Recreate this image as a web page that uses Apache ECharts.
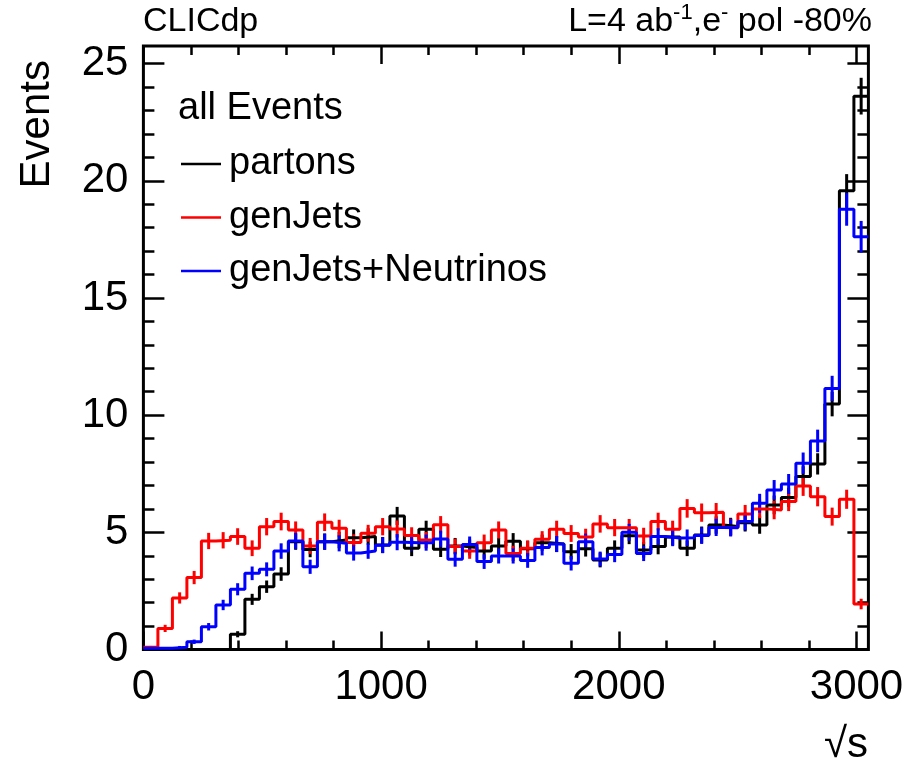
<!DOCTYPE html>
<html>
<head>
<meta charset="utf-8">
<script src="https://cdn.jsdelivr.net/npm/echarts@6/dist/echarts.min.js"></script>
<style>
  html, body { margin: 0; padding: 0; background: #fff; }
  #chart { width: 908px; height: 765px; }
</style>
</head>
<body>
<div id="chart"></div>
<script>
// Histogram binning of sqrt(s): 50 bins of 61 GeV from 0 to 3050
const X_MIN = 0;
const BIN_WIDTH = 61;
const N_BINS = 50;
const X_MAX = X_MIN + BIN_WIDTH * N_BINS;
const Y_MAX = 25.75;

// Per-event weight used for the statistical (sqrt(sum w^2)) error bars
const EVENT_WEIGHT = 0.026;

// Bin contents
const partons = [
  0, 0, 0, 0, 0, 0, 0.65, 2.14, 2.68, 3.22,
  4.60, 4.27, 4.60, 4.67, 4.77, 4.82, 4.46, 5.70, 4.32, 5.13,
  4.28, 4.42, 4.35, 4.20, 4.42, 4.62, 4.30, 4.56, 4.50, 4.17,
  4.30, 3.82, 4.32, 4.85, 4.25, 4.40, 4.80, 4.32, 4.89, 5.31,
  5.25, 5.41, 5.31, 6.17, 6.49, 7.38, 7.92, 10.47, 19.57, 23.61
];
const genJets = [
  0.10, 0.90, 2.20, 3.07, 4.63, 4.66, 4.82, 4.32, 5.24, 5.46,
  5.10, 4.42, 5.43, 5.17, 4.57, 4.96, 5.24, 5.14, 4.86, 4.67,
  5.32, 4.39, 4.20, 4.56, 5.10, 4.10, 4.32, 4.70, 5.13, 4.95,
  4.80, 5.36, 5.20, 5.20, 4.84, 5.46, 5.13, 6.02, 5.84, 5.86,
  5.21, 5.78, 6.00, 5.95, 6.31, 6.98, 6.52, 5.67, 6.41, 1.94
];
const genJetsNeutrinos = [
  0.05, 0.05, 0.10, 0.33, 0.97, 1.90, 2.57, 3.25, 3.42, 4.20,
  4.63, 3.53, 4.60, 4.53, 4.12, 4.20, 4.45, 4.58, 4.56, 4.56,
  4.72, 3.85, 4.48, 3.75, 3.99, 3.99, 3.80, 4.35, 4.50, 3.68,
  4.60, 3.86, 4.05, 5.00, 4.10, 4.82, 4.76, 4.77, 4.86, 5.21,
  5.19, 5.46, 6.24, 6.81, 7.06, 7.95, 8.90, 11.14, 18.78, 17.61
];

// Axis ticks
const xMajorTicks = [0, 1000, 2000, 3000];
const xMinorTicks = [200, 400, 600, 800, 1200, 1400, 1600, 1800, 2200, 2400, 2600, 2800];
const yMajorTicks = [0, 5, 10, 15, 20, 25];
const yMinorTicks = [1, 2, 3, 4, 6, 7, 8, 9, 11, 12, 13, 14, 16, 17, 18, 19, 21, 22, 23, 24];

const FONT = '"Liberation Sans", Arial, Helvetica, sans-serif';

const histograms = [
  { name: 'partons', color: '#000000', values: partons },
  { name: 'genJets', color: '#ff0000', values: genJets },
  { name: 'genJets+Neutrinos', color: '#0000ff', values: genJetsNeutrinos }
];

// Step outline: one point per lower bin edge plus the upper edge of the last bin
function stepPoints(values) {
  const pts = values.map((v, i) => [X_MIN + i * BIN_WIDTH, v]);
  pts.push([X_MAX, values[values.length - 1]]);
  return pts;
}

// Error bars at bin centres
function errorBars(values) {
  const out = [];
  values.forEach((v, i) => {
    if (v <= 0) return;
    const e = Math.sqrt(EVENT_WEIGHT * v);
    out.push([X_MIN + (i + 0.5) * BIN_WIDTH, v - e, v + e]);
  });
  return out;
}

function xAxisDef(position, ticks, len, labels) {
  return {
    type: 'value', position: position, min: X_MIN, max: X_MAX,
    axisLine: { show: false, onZero: false },
    splitLine: { show: false },
    axisTick: { show: true, inside: true, length: len, customValues: ticks,
      lineStyle: { color: '#000', width: 2.5 } },
    axisLabel: labels ? {
      show: true, customValues: xMajorTicks, margin: 17,
      formatter: v => String(v),
      fontSize: 42, color: '#000', fontFamily: FONT
    } : { show: false }
  };
}

function yAxisDef(position, ticks, len, labels) {
  return {
    type: 'value', position: position, min: 0, max: Y_MAX,
    axisLine: { show: false, onZero: false },
    splitLine: { show: false },
    axisTick: { show: true, inside: true, length: len, customValues: ticks,
      lineStyle: { color: '#000', width: 2.5 } },
    axisLabel: labels ? {
      show: true, customValues: yMajorTicks, margin: 15,
      formatter: v => String(v),
      fontSize: 42, color: '#000', fontFamily: FONT
    } : { show: false }
  };
}

const series = [];
histograms.forEach(h => {
  series.push({
    name: h.name, type: 'line', step: 'end',
    xAxisIndex: 0, yAxisIndex: 0,
    data: stepPoints(h.values),
    showSymbol: false, symbol: 'none',
    lineStyle: { color: h.color, width: 3 },
    itemStyle: { color: h.color },
    animation: false, z: 3
  });
});
histograms.forEach(h => {
  series.push({
    name: h.name, type: 'custom',
    xAxisIndex: 0, yAxisIndex: 0,
    data: errorBars(h.values),
    encode: { x: 0, y: [1, 2] },
    renderItem: function (params, api) {
      const x = api.value(0);
      const p1 = api.coord([x, api.value(1)]);
      const p2 = api.coord([x, api.value(2)]);
      return {
        type: 'line',
        shape: { x1: p1[0], y1: p1[1], x2: p2[0], y2: p2[1] },
        style: { stroke: h.color, lineWidth: 3 }
      };
    },
    animation: false, z: 3
  });
});

const chart = echarts.init(document.getElementById('chart'), null, { renderer: 'canvas' });
chart.setOption({
  animation: false,
  backgroundColor: '#ffffff',
  grid: {
    left: 143.4, top: 46, width: 725, height: 603.5,
    show: true, borderColor: '#000', borderWidth: 3,
    backgroundColor: 'transparent', containLabel: false
  },
  xAxis: [
    xAxisDef('bottom', xMajorTicks, 18, true),
    xAxisDef('bottom', xMinorTicks, 9, false),
    xAxisDef('top', xMajorTicks, 18, false),
    xAxisDef('top', xMinorTicks, 9, false)
  ],
  yAxis: [
    yAxisDef('left', yMajorTicks, 21, true),
    yAxisDef('left', yMinorTicks, 11, false),
    yAxisDef('right', yMajorTicks, 21, false),
    yAxisDef('right', yMinorTicks, 11, false)
  ],
  legend: {
    data: histograms.map(h => h.name),
    orient: 'vertical',
    left: 181, top: 142, padding: 0,
    icon: 'rect', itemWidth: 40, itemHeight: 2.5, itemGap: 9.5,
    textStyle: { fontSize: 38, color: '#000', fontFamily: FONT, lineHeight: 44, padding: [0, 0, 0, 3] },
    selectedMode: false
  },
  graphic: [
    { type: 'text', left: 178, top: 90,
      style: { text: 'all Events', fontSize: 38, fontFamily: FONT, fill: '#000' } },
    { type: 'text', x: 143, y: 22,
      style: { text: 'CLICdp', fontSize: 34, fontFamily: FONT, fill: '#000',
        align: 'left', verticalAlign: 'middle' } },
    { type: 'text', x: 872, y: 22,
      style: {
        text: '{n|L=4 ab}{s|-1}{n|,e}{s|-}{n| pol -80%}',
        align: 'right', verticalAlign: 'middle', fill: '#000',
        rich: {
          n: { fontSize: 34, fontFamily: FONT, fill: '#000', lineHeight: 40 },
          s: { fontSize: 22, fontFamily: FONT, fill: '#000', lineHeight: 22, verticalAlign: 'top' }
        }
      } },
    { type: 'text', x: 37, y: 60, rotation: Math.PI / 2,
      style: { text: 'Events', fontSize: 42, fontFamily: FONT, fill: '#000',
        align: 'right', verticalAlign: 'middle' } },
    { type: 'text', x: 868, y: 745,
      style: { text: '√s', fontSize: 42, fontFamily: FONT, fill: '#000',
        align: 'right', verticalAlign: 'middle' } }
  ],
  series: series
});
</script>
</body>
</html>
